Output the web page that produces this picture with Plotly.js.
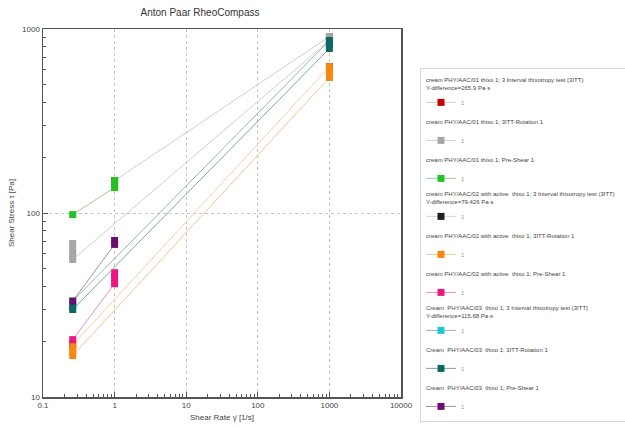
<!DOCTYPE html>
<html>
<head>
<meta charset="utf-8">
<script src="https://cdn.plot.ly/plotly-3.0.1.min.js"></script>
<style>html,body{margin:0;padding:0;background:#fff;}#chart{width:625px;height:427px;}</style>
</head>
<body>
<div id="chart"></div>
<script>
// ---- data ----
const seriesTitles = [
  "cream PHY/AAC/01 thixo 1; 3 Interval thixotropy test (3ITT)<br>Y-difference=265.9 Pa·s",
  "cream PHY/AAC/01 thixo 1; 3ITT-Rotation 1",
  "cream PHY/AAC/01 thixo 1; Pre-Shear 1",
  "cream PHY/AAC/02 with active  thixo 1; 3 Interval thixotropy test (3ITT)<br>Y-difference=79.426 Pa·s",
  "cream PHY/AAC/02 with active  thixo 1; 3ITT-Rotation 1",
  "cream PHY/AAC/02 with active  thixo 1; Pre-Shear 1",
  "Cream  PHY/AAC/03  thixo 1; 3 Interval thixotropy test (3ITT)<br>Y-difference=115.68 Pa·s",
  "Cream  PHY/AAC/03  thixo 1; 3ITT-Rotation 1",
  "Cream  PHY/AAC/03  thixo 1; Pre-Shear 1"
];
const itemLabel = "1";

// shear rate [1/s] and shear stress [Pa] per series
const x01_3itt = [1, 1000];
const y01_3itt = [150, 910];
const x01_rot = [0.26, 0.26, 0.26, 0.26, 1000, 1000];
const y01_rot = [68.3, 63.9, 59.7, 55.9, 866, 910];
const x01_pre = [0.26, 1, 1, 1];
const y01_pre = [98, 137.6, 143.8, 150.2];

const x02_3itt = [0.26, 1000];
const y02_3itt = [19.2, 625];
const x02_rot = [0.26, 0.26, 0.26, 1000, 1000, 1000];
const y02_rot = [18.8, 17.8, 16.8, 545, 584, 625];
const x02_pre = [0.26, 1, 1, 1];
const y02_pre = [20.5, 41.3, 44.3, 47.4];

const x03_3itt = [0.26, 1000];
const y03_3itt = [33.2, 866];
const x03_rot = [0.26, 0.26, 1000, 1000, 1000];
const y03_rot = [31.2, 29.9, 783, 824, 866];
const x03_pre = [0.26, 1, 1];
const y03_pre = [33.2, 67.5, 70.9];

const xTickVals = [0.1, 1, 10, 100, 1000, 10000];
const xTickText = ["0.1", "1", "10", "100", "1000", "10000"];
const yTickVals = [10, 100, 1000];
const yTickText = ["10", "100", "1000"];

// ---- styles ----
const markerColors = ["#c40000", "#a6a6a6", "#22c322", "#1e1e1e", "#f7880f", "#f0157d", "#20c8d4", "#0c6a62", "#6b0d6e"];
const lineColors   = ["#cfcfcf", "#cfcfcf", "#a3c7a3", "#f6cfa8", "#f5c592", "#f08ab6", "#93b5b6", "#7fa6a6", "#a98cac"];
const xs = [x01_3itt, x01_rot, x01_pre, x02_3itt, x02_rot, x02_pre, x03_3itt, x03_rot, x03_pre];
const ys = [y01_3itt, y01_rot, y01_pre, y02_3itt, y02_rot, y02_pre, y03_3itt, y03_rot, y03_pre];

const traces = xs.map((x, i) => ({
  type: "scatter",
  mode: "lines+markers",
  x: x,
  y: ys[i],
  name: itemLabel,
  legendgroup: "g" + i,
  legendgrouptitle: {text: seriesTitles[i], font: {size: 6, color: "#444"}},
  line: {color: lineColors[i], width: 1},
  marker: {symbol: "square", size: 7, color: markerColors[i], line: {width: 0}}
}));

// minor ticks (axis decoration)
function minorTicks(lo, hi) {
  const v = [];
  for (let d = lo; d < hi; d++) for (let k = 2; k <= 9; k++) v.push(k * Math.pow(10, d));
  return v;
}

const layout = {
  width: 625, height: 427,
  margin: {l: 43, r: 224, t: 29, b: 30},
  paper_bgcolor: "#fff", plot_bgcolor: "#fff",
  font: {family: "Liberation Sans, Arial, sans-serif", color: "#444", size: 8},
  title: {text: "Anton Paar RheoCompass", font: {size: 10, color: "#333"}, x: 0.32, xanchor: "center", y: 0.97, yanchor: "middle"},
  showlegend: true,
  legend: {
    xref: "container", yref: "container",
    x: 0.672, xanchor: "left", y: 0.841, yanchor: "top",
    bordercolor: "#d8d8d8", borderwidth: 1, bgcolor: "#fff",
    font: {size: 6, color: "#999"},
    tracegroupgap: 0, itemwidth: 30, maxheight: 420
  },
  xaxis: {
    type: "log", range: [-1, 4],
    tickmode: "array", tickvals: xTickVals, ticktext: xTickText,
    ticks: "inside", ticklen: 5, tickcolor: "#555",
    showline: true, linecolor: "#555", linewidth: 1.5, mirror: true,
    showgrid: true, gridcolor: "#c4c4c4", griddash: "dot", gridwidth: 1,
    zeroline: false,
    minor: {tickmode: "array", tickvals: minorTicks(-1, 4), ticks: "inside", ticklen: 3, tickcolor: "#555", showgrid: false},
    title: {text: "Shear Rate γ̇ [1/s]", font: {size: 8, color: "#444"}, standoff: 5}
  },
  yaxis: {
    type: "log", range: [1, 3],
    tickmode: "array", tickvals: yTickVals, ticktext: yTickText,
    ticks: "inside", ticklen: 5, tickcolor: "#555",
    showline: true, linecolor: "#555", linewidth: 1.5, mirror: true,
    showgrid: true, gridcolor: "#c4c4c4", griddash: "dot", gridwidth: 1,
    zeroline: false,
    minor: {tickmode: "array", tickvals: minorTicks(1, 3), ticks: "inside", ticklen: 3, tickcolor: "#555", showgrid: false},
    title: {text: "Shear Stress τ [Pa]", font: {size: 8, color: "#444"}, standoff: 6}
  }
};

Plotly.newPlot("chart", traces, layout, {displayModeBar: false, staticPlot: true});
</script>
</body>
</html>
